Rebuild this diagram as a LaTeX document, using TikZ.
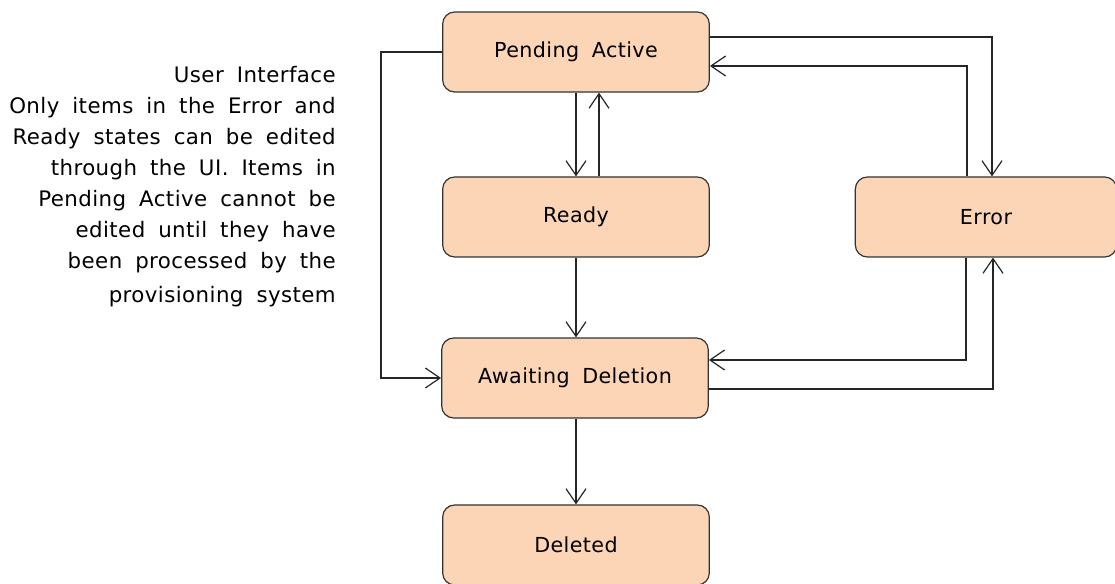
\documentclass[tikz,border=0pt]{standalone}
\usepackage{fontspec}
\setmainfont{DejaVu Sans}[WordSpace=1.8,LetterSpace=2]
\usetikzlibrary{arrows.meta,calc}
\definecolor{statefill}{HTML}{FBD5B5}
\definecolor{stateline}{HTML}{333333}

\begin{document}
\begin{tikzpicture}[x=0.75pt,y=-0.75pt,
  state/.style={draw=stateline,rounded corners=9pt,fill=statefill,
    minimum width=200pt,minimum height=60pt,line width=0.9pt,
    font=\fontsize{15.5}{18}\selectfont},
  flow/.style={-{Straight Barb[length=11pt,width=15pt]},line width=0.9pt,black!85}]
  \useasboundingbox (0,0) rectangle (1115,584);
  % states
  \node[state] (pa) at (576,52) {Pending Active};
  \node[state] (rdy) at (576,217) {Ready};
  \node[state] (ad) at (575,378) {Awaiting Deletion};
  \node[state] (del) at (576,545) {Deleted};
  \node[state,minimum width=196pt] (err) at (986,217) {Error};
  % note
  \node[anchor=north east,align=right,inner sep=0pt,
    font=\fontsize{16}{23.2}\selectfont] (note) at (336,66)
    {User Interface\\ Only items in the Error and\\ Ready states can be edited\\
     through the UI. Items in\\ Pending Active cannot be\\ edited until they have\\
     been processed by the\\[2.5pt] provisioning system};
  % transitions
  \draw[flow] (pa.south) -- (rdy.north);
  \draw[flow] ($(rdy.north)+(23,0)$) -- ($(pa.south)+(23,0)$);
  \draw[flow] (rdy.south) -- ($(ad.north)+(1,0)$);
  \draw[flow] ($(ad.south)+(1,0)$) -- (del.north);
  \draw[flow] (pa.west) -- ++(-61,0) |- (ad.west);
  \draw[flow] ($(pa.east)+(0,-15)$) -| ($(err.north)+(6,0)$);
  \draw[flow] ($(err.north)+(-19,0)$) |- ($(pa.east)+(0,14)$);
  \draw[flow] ($(err.south)+(-20,0)$) |- ($(ad.east)+(0,-18)$);
  \draw[flow] ($(ad.east)+(0,11)$) -| ($(err.south)+(7,0)$);
\end{tikzpicture}
\end{document}
